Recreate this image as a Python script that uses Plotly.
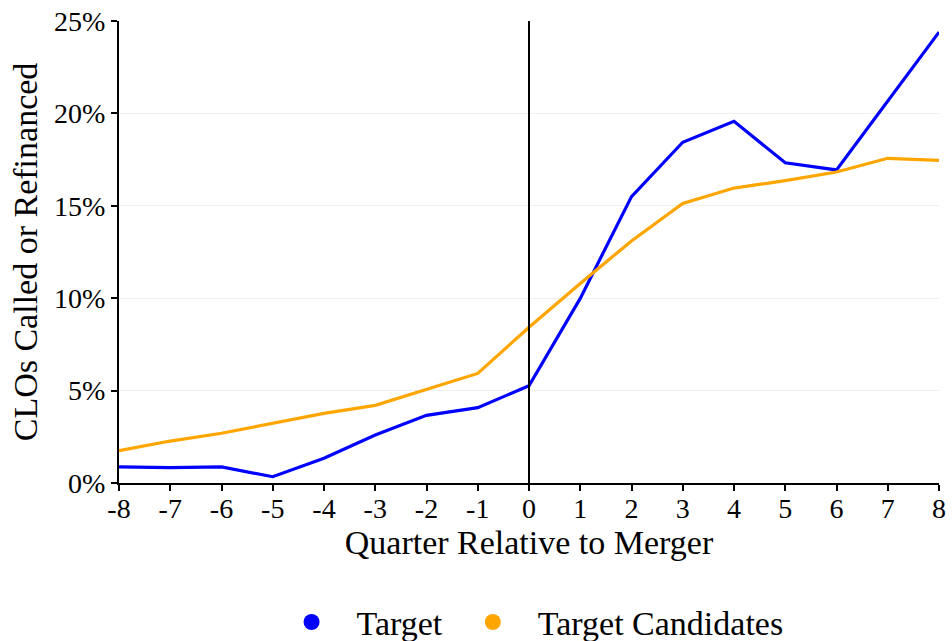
import plotly.graph_objects as go

quarters = list(range(-8, 9))
target = [0.87, 0.83, 0.87, 0.34, 1.34, 2.6, 3.66, 4.08, 5.26,
          9.99, 15.5, 18.44, 19.57, 17.33, 16.94, 20.7, 24.4]
candidates = [1.75, 2.27, 2.69, 3.23, 3.77, 4.2, 5.07, 5.93, 8.43,
              10.8, 13.1, 15.13, 15.96, 16.36, 16.83, 17.57, 17.46]
y_ticks = [0, 5, 10, 15, 20, 25]
y_tick_labels = ["0%", "5%", "10%", "15%", "20%", "25%"]

FONT = "Liberation Serif"
BLUE = "#0000ff"
ORANGE = "#ffa500"

fig = go.Figure()
fig.add_trace(go.Scatter(x=quarters, y=target, mode="lines",
                         line=dict(color=BLUE, width=3.2), showlegend=False))
fig.add_trace(go.Scatter(x=quarters, y=candidates, mode="lines",
                         line=dict(color=ORANGE, width=3.2), showlegend=False))
# legend entries (circle markers)
fig.add_trace(go.Scatter(x=[None], y=[None], mode="markers", name="Target",
                         marker=dict(color=BLUE, size=18)))
fig.add_trace(go.Scatter(x=[None], y=[None], mode="markers", name="Target Candidates",
                         marker=dict(color=ORANGE, size=18)))

fig.add_shape(type="line", x0=0, x1=0, xref="x", y0=0, y1=1, yref="paper",
              line=dict(color="black", width=2))

fig.update_layout(
    width=952, height=641,
    margin=dict(l=119, r=13, t=21, b=158),
    paper_bgcolor="white", plot_bgcolor="white",
    font=dict(family=FONT, size=28, color="black"),
    legend=dict(orientation="h", x=0.28, xanchor="left", xref="container",
                y=0.029, yanchor="middle", yref="container",
                font=dict(size=34), itemwidth=80),
    xaxis=dict(range=[-8, 8], tickmode="array", tickvals=quarters,
               ticktext=[str(q) for q in quarters], automargin=False,
               showline=True, linecolor="black", linewidth=2,
               ticks="outside", ticklen=6, tickwidth=1.5, tickcolor="black",
               ticklabelstandoff=-7,
               showgrid=False, zeroline=False,
               title=dict(text="Quarter Relative to Merger", standoff=4)),
    yaxis=dict(range=[0, 25], tickmode="array", tickvals=y_ticks,
               ticktext=y_tick_labels, automargin=False,
               showline=True, linecolor="black", linewidth=2,
               ticks="outside", ticklen=6, tickwidth=1.5, tickcolor="black",
               showgrid=True, gridcolor="#efefef", gridwidth=1, zeroline=False,
               title=dict(text="CLOs Called or Refinanced", standoff=6)),
)

fig.write_html("out.html", post_script="document.body.style.margin='0';",
               config={"displayModeBar": False})
